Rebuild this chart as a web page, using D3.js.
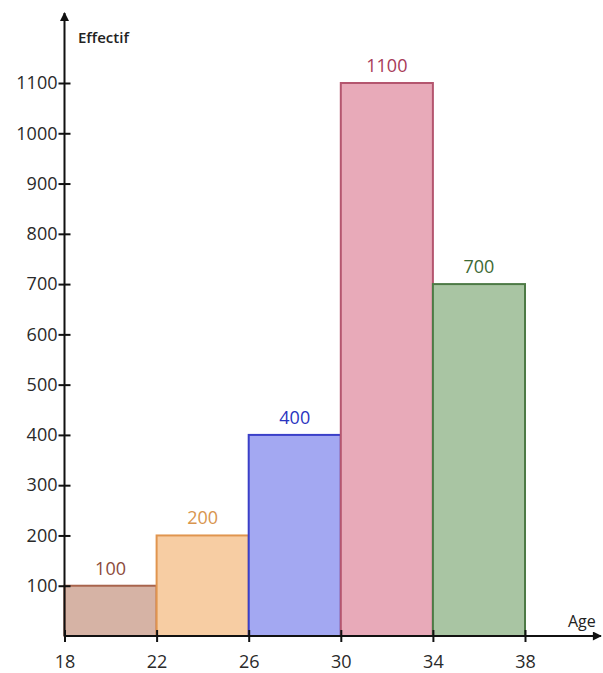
<!DOCTYPE html>
<html>
<head>
<meta charset="utf-8">
<script src="https://cdn.jsdelivr.net/npm/d3@7"></script>
<style>
  html, body { margin: 0; padding: 0; background: #fff; }
  svg { display: block; font-family: "Open Sans", "DejaVu Sans", sans-serif; }
</style>
</head>
<body>
<svg id="chart" width="603" height="673"></svg>
<script>
// Age classes (bounds) and their counts
const classStarts = [18, 22, 26, 30, 34];
const classEnds   = [22, 26, 30, 34, 38];
const counts      = [100, 200, 400, 1100, 700];
const fills       = ["#d6b3a5", "#f7cda3", "#a3a8f2", "#e8aab9", "#a9c5a3"];
const strokes     = ["#a8644c", "#e0954f", "#3a3fc8", "#b4566f", "#4d7a45"];
const labelColors = ["#8c4b3b", "#d8954e", "#2a34c0", "#a83a58", "#3d6a34"];
const xTicks = [18, 22, 26, 30, 34, 38];
const yTicks = [100, 200, 300, 400, 500, 600, 700, 800, 900, 1000, 1100];

const FONT = "Open Sans, DejaVu Sans, sans-serif";
const svg = d3.select("#chart");

const x = d3.scaleLinear().domain([18, 38]).range([64.5, 525]);
const y = d3.scaleLinear().domain([0, 1100]).range([636, 83]);

// Bars
const bars = svg.append("g");
counts.forEach((c, i) => {
  bars.append("rect")
    .attr("x", x(classStarts[i]))
    .attr("y", y(c))
    .attr("width", x(classEnds[i]) - x(classStarts[i]))
    .attr("height", y(0) - y(c))
    .attr("fill", fills[i])
    .attr("stroke", strokes[i])
    .attr("stroke-width", 2);
  bars.append("text")
    .attr("x", (x(classStarts[i]) + x(classEnds[i])) / 2)
    .attr("y", y(c) - 11)
    .attr("text-anchor", "middle")
    .attr("font-size", 18)
    .attr("font-weight", 500)
    .attr("fill", labelColors[i])
    .text(c);
});

// Arrow marker for axes
const defs = svg.append("defs");
defs.append("marker")
  .attr("id", "arrow")
  .attr("viewBox", "0 0 10 10")
  .attr("refX", 9).attr("refY", 5)
  .attr("markerWidth", 10).attr("markerHeight", 9)
  .attr("markerUnits", "userSpaceOnUse")
  .attr("orient", "auto")
  .append("path")
  .attr("d", "M0,0 L10,5 L0,10 Z")
  .attr("fill", "#111");

const fmt = d3.format("d");

// Horizontal axis
const xAxis = svg.append("g")
  .attr("transform", `translate(0,${y(0)})`)
  .call(d3.axisBottom(x).tickValues(xTicks).tickFormat(fmt).tickSize(6).tickPadding(13))
  .attr("font-family", FONT);
xAxis.select(".domain").remove();
xAxis.selectAll(".tick line").attr("y1", -6).attr("y2", 6).attr("stroke", "#111").attr("stroke-width", 2);
xAxis.selectAll(".tick text").attr("font-size", 18).attr("font-weight", 500).attr("fill", "#2a2a2a");
svg.append("line")
  .attr("x1", x(18)).attr("x2", 601)
  .attr("y1", y(0)).attr("y2", y(0))
  .attr("stroke", "#111").attr("stroke-width", 2)
  .attr("marker-end", "url(#arrow)");

// Vertical axis
const yAxis = svg.append("g")
  .attr("transform", `translate(${x(18)},0)`)
  .call(d3.axisLeft(y).tickValues(yTicks).tickFormat(fmt).tickSize(6).tickPadding(1))
  .attr("font-family", FONT);
yAxis.select(".domain").remove();
yAxis.selectAll(".tick line").attr("x1", -6).attr("x2", 6).attr("stroke", "#111").attr("stroke-width", 2);
yAxis.selectAll(".tick text").attr("font-size", 18).attr("font-weight", 500).attr("fill", "#2a2a2a");
svg.append("line")
  .attr("x1", x(18)).attr("x2", x(18))
  .attr("y1", y(0)).attr("y2", 13)
  .attr("stroke", "#111").attr("stroke-width", 2)
  .attr("marker-end", "url(#arrow)");

// Axis titles
svg.append("text").attr("x", 78).attr("y", 43)
  .attr("font-size", 15).attr("font-weight", 600).attr("fill", "#222").text("Effectif");
svg.append("text").attr("x", 568).attr("y", 627)
  .attr("font-size", 16).attr("font-weight", 500).attr("fill", "#222").text("Age");
</script>
</body>
</html>
